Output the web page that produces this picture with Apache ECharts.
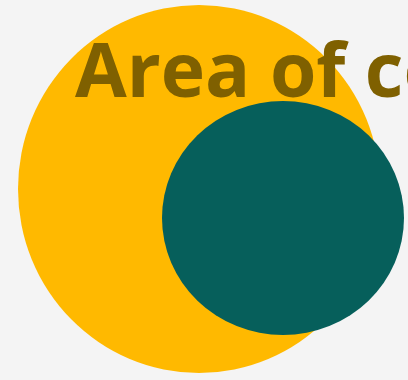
<!DOCTYPE html>
<html>
<head>
<meta charset="utf-8">
<script src="https://cdn.jsdelivr.net/npm/echarts@6/dist/echarts.min.js"></script>
<style>
  html, body { margin: 0; padding: 0; background: #f4f4f4; }
  #chart { width: 408px; height: 380px; }
</style>
</head>
<body>
<div id="chart"></div>
<script>
// two areas as ellipses: centre x, centre y, radius x, radius y (in plot units)
const shapeNames = ['Total', 'Part'];
const centreX = [199, 283];
const centreY = [189, 218];
const radiusX = [181, 121];
const radiusY = [184, 117];
const shapeColors = ['#ffb900', '#065f5b'];
const titleText = 'Area of comparison';

const myChart = echarts.init(document.getElementById('chart'));

const seriesData = shapeNames.map((name, i) => ({
  name: name,
  value: [centreX[i], centreY[i], radiusX[i], radiusY[i]],
  itemStyle: { color: shapeColors[i] }
}));

const option = {
  animation: false,
  backgroundColor: '#f4f4f4',
  title: {
    text: titleText,
    left: 70,
    top: 33,
    z: 10,
    textStyle: {
      fontFamily: 'Open Sans',
      fontWeight: 'bold',
      fontSize: 75,
      color: '#7f6000'
    }
  },
  grid: { left: 0, right: 0, top: 0, bottom: 0 },
  xAxis: { type: 'value', min: 0, max: 408, show: false },
  yAxis: { type: 'value', min: 0, max: 380, inverse: true, show: false },
  series: [
    {
      type: 'custom',
      data: seriesData,
      renderItem: function (params, api) {
        const c = api.coord([api.value(0), api.value(1)]);
        const s = api.size([api.value(2), api.value(3)]);
        return {
          type: 'circle',
          x: c[0],
          y: c[1],
          scaleX: s[0] / s[1],
          scaleY: 1,
          shape: { cx: 0, cy: 0, r: s[1] },
          style: { fill: api.visual('color') }
        };
      }
    }
  ]
};

myChart.setOption(option);
</script>
</body>
</html>
